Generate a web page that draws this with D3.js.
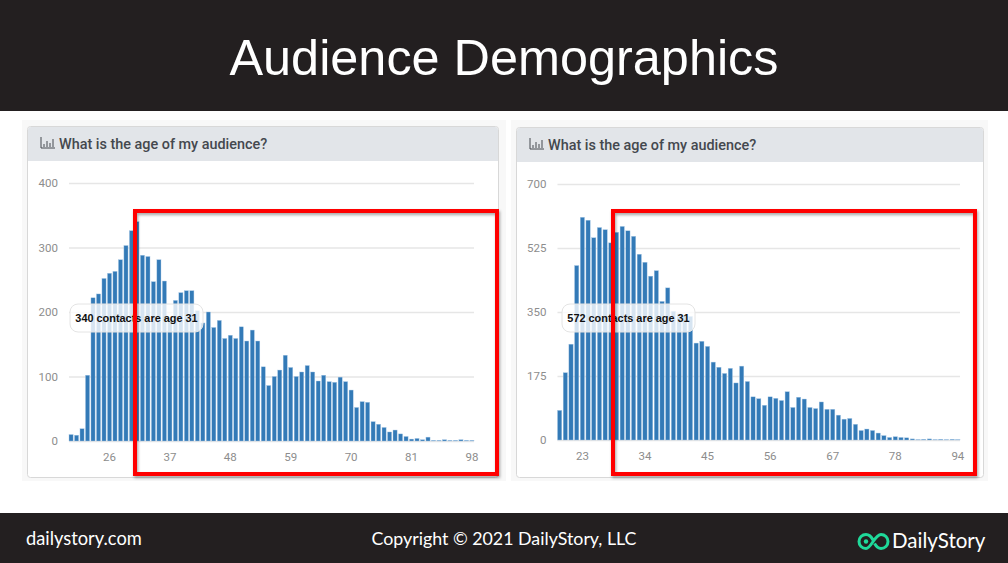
<!DOCTYPE html>
<html>
<head>
<meta charset="utf-8">
<script src="https://cdn.jsdelivr.net/npm/d3@7"></script>
<style>
  html, body { margin: 0; padding: 0; background: #fff; }
  svg { display: block; }
  .yaxis .domain, .xaxis .domain { display: none; }
  .yaxis line { stroke: #e6e6e6; stroke-width: 1.5; }
  .xaxis line { display: none; }
  .yaxis text, .xaxis text { font-family: Roboto, sans-serif; font-size: 11.5px; fill: #8d8d8d; }
</style>
</head>
<body>
<div id="chart"></div>
<script>
// data
var leftAges = [19,20,21,22,23,24,25,26,27,28,29,30,31,32,33,34,35,36,37,38,39,40,41,42,43,44,45,46,47,48,49,50,51,52,53,54,55,56,57,58,59,60,61,62,63,64,65,66,67,68,69,70,71,72,73,74,75,76,77,78,79,80,81,82,83,84,85,86,87,88,89,90,91,98];
var leftCounts = [10,9,19,102,222,228,252,260,263,281,303,326,340,288,286,247,281,248,190,218,230,233,233,202,183,200,176,187,159,164,159,177,155,172,155,115,86,100,110,133,114,100,107,117,107,93,102,92,91,99,92,79,52,61,60,30,26,21,14,17,11,7,3,4,2,6,1,1,2,1,1,2,1,1];
var leftYTicks = [0,100,200,300,400];
var leftXTicks = [26,37,48,59,70,81,98];

var rightAges = [19,20,21,22,23,24,25,26,27,28,29,30,31,32,33,34,35,36,37,38,39,40,41,42,43,44,45,46,47,48,49,50,51,52,53,54,55,56,57,58,59,60,61,62,63,64,65,66,67,68,69,70,71,72,73,74,75,76,77,78,79,80,81,82,83,84,85,86,87,88,94];
var rightCounts = [81,184,262,477,609,601,553,581,575,539,568,584,572,557,508,486,448,463,379,416,352,345,340,338,265,270,256,213,199,182,196,156,202,160,118,113,95,118,114,108,132,89,117,112,89,86,104,84,84,68,57,59,43,26,30,26,19,12,7,9,7,6,3,1,2,3,1,2,1,2,1];
var rightYTicks = [0,175,350,525,700];
var rightXTicks = [23,34,45,56,67,78,94];

var width = 1008, height = 563;

var svg = d3.select("#chart")
  .append("svg")
    .attr("width", width)
    .attr("height", height);

var defs = svg.append("defs");
var shadow = defs.append("filter").attr("id", "shadow")
  .attr("x", "-5%").attr("y", "-5%").attr("width", "110%").attr("height", "110%");
shadow.append("feDropShadow")
  .attr("dx", 1).attr("dy", 2).attr("stdDeviation", 1.5)
  .attr("flood-color", "#000").attr("flood-opacity", 0.35);

svg.append("rect").attr("width", width).attr("height", height).attr("fill", "#fff");

// header and footer bands
svg.append("rect").attr("width", width).attr("height", 111).attr("fill", "#231f20");
svg.append("rect").attr("y", 513).attr("width", width).attr("height", 50).attr("fill", "#231f20");

svg.append("text")
  .attr("x", 504).attr("y", 75)
  .attr("text-anchor", "middle")
  .attr("font-family", "Liberation Sans, Arial, sans-serif")
  .attr("font-size", 50.4)
  .attr("fill", "#fff")
  .text("Audience Demographics");

function footerText(x, y, anchor, size, txt) {
  svg.append("text")
    .attr("x", x).attr("y", y)
    .attr("text-anchor", anchor)
    .attr("font-family", "Lato, sans-serif")
    .attr("font-size", size)
    .attr("fill", "#fff")
    .text(txt);
}
footerText(26, 545, "start", 18.3, "dailystory.com");
footerText(504, 545, "middle", 17.8, "Copyright © 2021 DailyStory, LLC");
footerText(892, 548, "start", 20.5, "DailyStory");

// logo, two linked rings
var logo = svg.append("g")
  .attr("fill", "none")
  .attr("stroke", "#1fd99a")
  .attr("stroke-width", 3);
logo.append("path").attr("d", "M873 540 C871 536 869 534.5 866 534.5 A7 7 0 0 0 866 548.5 C871 548.5 875 534.5 881 534.5 A7 7 0 0 1 881 548.5 C878 548.5 876 546 874.5 543.5");
logo.append("circle").attr("cx", 866).attr("cy", 541.5).attr("r", 2.2).attr("fill", "#1fd99a").attr("stroke", "none");

function drawPanel(o) {
  // grey backing and card
  svg.append("rect")
    .attr("x", o.backX).attr("y", 120).attr("width", o.backW).attr("height", 361)
    .attr("fill", "#f8f8f8");
  svg.append("rect")
    .attr("x", o.cardX + 0.5).attr("y", o.cardY + 0.5).attr("width", o.cardW).attr("height", 477 - o.cardY)
    .attr("rx", 3)
    .attr("fill", "#fff")
    .attr("stroke", "#d8d8d8");
  svg.append("path")
    .attr("d", "M" + (o.cardX + 1) + " " + (o.cardY + 4) + "q0 -3 3 -3h" + (o.cardW - 7) + "q3 0 3 3V" + (o.cardY + 35) + "H" + (o.cardX + 1) + "Z")
    .attr("fill", "#e2e5e9");

  // little bar chart icon
  var ix = o.cardX + 14, iy = o.cardY + 22;
  var icon = svg.append("g").attr("stroke", "#44484e").attr("fill", "none").attr("stroke-width", 1);
  icon.append("path").attr("d", "M" + ix + " " + (iy - 11) + "V" + iy + "H" + (ix + 14));
  icon.append("path").attr("d",
    "M" + (ix + 3) + " " + (iy - 1) + "v-3" +
    "M" + (ix + 6) + " " + (iy - 1) + "v-6" +
    "M" + (ix + 9) + " " + (iy - 1) + "v-4" +
    "M" + (ix + 12) + " " + (iy - 1) + "v-8");

  svg.append("text")
    .attr("x", o.cardX + 32).attr("y", o.cardY + 22.5)
    .attr("font-family", "Roboto, sans-serif")
    .attr("font-size", 14.4)
    .attr("font-weight", 500)
    .attr("fill", "#44484e")
    .text("What is the age of my audience?");

  var x = d3.scaleBand()
    .domain(o.ages)
    .range([o.left, o.right])
    .paddingInner(0.25)
    .paddingOuter(0);

  var y = d3.scaleLinear()
    .domain([0, o.yTicks[o.yTicks.length - 1]])
    .range([o.bottom, o.top]);

  svg.append("g")
    .attr("class", "yaxis")
    .attr("transform", "translate(" + o.left + ",0)")
    .call(d3.axisLeft(y).tickValues(o.yTicks).tickSize(-(o.right - o.left)).tickPadding(11));

  svg.append("g")
    .attr("class", "xaxis")
    .attr("transform", "translate(0," + o.bottom + ")")
    .call(d3.axisBottom(x).tickValues(o.xTicks).tickSize(0).tickPadding(12));

  svg.append("g")
    .selectAll("rect")
    .data(o.counts)
    .enter()
    .append("rect")
      .attr("x", function (d, i) { return x(o.ages[i]); })
      .attr("width", x.bandwidth())
      .attr("y", function (d) { return y(d); })
      .attr("height", function (d) { return o.bottom - y(d); })
      .attr("fill", "#337ab7")
      .attr("stroke", "#a9c9e6")
      .attr("stroke-width", 0.4);

  // hover label, sits over the bars
  svg.append("rect")
    .attr("x", o.tipX).attr("y", 304).attr("width", 133).attr("height", 28)
    .attr("rx", 8)
    .attr("fill", "#fff").attr("fill-opacity", 0.8)
    .attr("stroke", "#e4e4e4");
  svg.append("text")
    .attr("x", o.tipX + 66.5).attr("y", 321.5)
    .attr("text-anchor", "middle")
    .attr("font-family", "Liberation Sans, Arial, sans-serif")
    .attr("font-size", 10.9)
    .attr("font-weight", "bold")
    .attr("fill", "#111")
    .text(o.tip);

  // red highlight box
  svg.append("rect")
    .attr("x", o.boxX).attr("y", 211).attr("width", 362).attr("height", 263)
    .attr("fill", "none")
    .attr("stroke", "#ff0000")
    .attr("stroke-width", 4)
    .attr("filter", "url(#shadow)");
}

drawPanel({
  backX: 22, backW: 484, cardX: 27, cardY: 126, cardW: 471,
  left: 69, right: 474, top: 183, bottom: 441,
  ages: leftAges, counts: leftCounts, yTicks: leftYTicks, xTicks: leftXTicks,
  tipX: 70, tip: "340 contacts are age 31", boxX: 135
});

drawPanel({
  backX: 511, backW: 477, cardX: 516, cardY: 127, cardW: 467,
  left: 557.5, right: 960, top: 184, bottom: 440,
  ages: rightAges, counts: rightCounts, yTicks: rightYTicks, xTicks: rightXTicks,
  tipX: 562, tip: "572 contacts are age 31", boxX: 613
});
</script>
</body>
</html>
